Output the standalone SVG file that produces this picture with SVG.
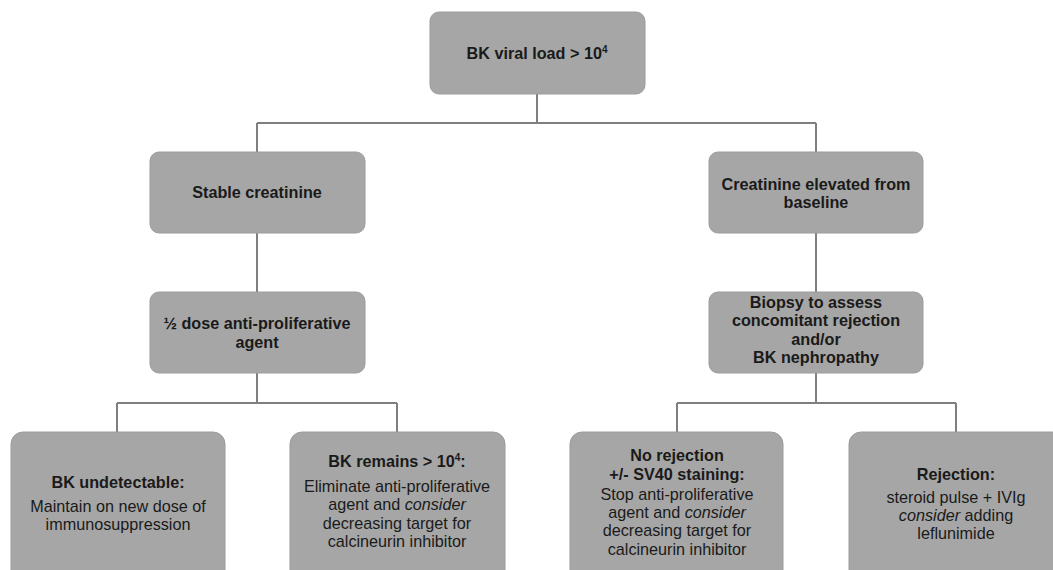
<svg xmlns="http://www.w3.org/2000/svg" width="1053" height="570" viewBox="0 0 1053 570">
<style>
.box{fill:#a6a6a6;stroke:#9c9c9c;stroke-width:1}
.t{font-family:"Liberation Sans",Arial,sans-serif;font-size:16.2px;fill:#1a1a1a;text-anchor:middle}
.b{font-weight:bold}
.sup{font-size:10px}
.c{fill:none;stroke:#7f7f7f;stroke-width:2}
</style>
<rect width="1053" height="570" fill="#ffffff"/>
<g id="connectors">
<path class="c" d="M537 94V123M257 123H816M257 123V152M816 123V152"/>
<path class="c" d="M257 233V292M816 233V292"/>
<path class="c" d="M257 373V403M117 403H397M117 403V432M397 403V432"/>
<path class="c" d="M816 373V403M677 403H956M677 403V432M956 403V432"/>
</g>
<g id="n-top">
<rect class="box" x="430" y="12" width="215" height="82" rx="9"/>
<text class="t b" x="537" y="59">BK viral load &gt; 10<tspan class="sup" dy="-6">4</tspan></text>
</g>
<g id="n-stable">
<rect class="box" x="150" y="152" width="215" height="81" rx="9"/>
<text class="t b" x="257" y="198">Stable creatinine</text>
</g>
<g id="n-elevated">
<rect class="box" x="709" y="152" width="214" height="81" rx="9"/>
<text class="t b" x="816" y="189.5">Creatinine elevated from</text>
<text class="t b" x="816" y="207.7">baseline</text>
</g>
<g id="n-halfdose">
<rect class="box" x="150" y="292" width="215" height="81" rx="9"/>
<text class="t b" x="257" y="329.4">½ dose anti-proliferative</text>
<text class="t b" x="257" y="347.6">agent</text>
</g>
<g id="n-biopsy">
<rect class="box" x="709" y="292" width="214" height="81" rx="9"/>
<text class="t b" x="816" y="308.2">Biopsy to assess</text>
<text class="t b" x="816" y="326.4">concomitant rejection</text>
<text class="t b" x="816" y="344.6">and/or</text>
<text class="t b" x="816" y="362.8">BK nephropathy</text>
</g>
<g id="n-undetectable">
<rect class="box" x="11" y="432" width="214" height="150" rx="12"/>
<text class="t b" x="118" y="488">BK undetectable:</text>
<text class="t" x="118" y="512">Maintain on new dose of</text>
<text class="t" x="118" y="530.2">immunosuppression</text>
</g>
<g id="n-remains">
<rect class="box" x="290" y="432" width="215" height="150" rx="12"/>
<text class="t b" x="397" y="467">BK remains &gt; 10<tspan class="sup" dy="-6">4</tspan><tspan dy="6">:</tspan></text>
<text class="t" x="397" y="492.2">Eliminate anti-proliferative</text>
<text class="t" x="397" y="510.4">agent and <tspan font-style="italic">consider</tspan></text>
<text class="t" x="397" y="528.6">decreasing target for</text>
<text class="t" x="397" y="546.8">calcineurin inhibitor</text>
</g>
<g id="n-norejection">
<rect class="box" x="570" y="432" width="213" height="150" rx="12"/>
<text class="t b" x="677" y="461.4">No rejection</text>
<text class="t b" x="677" y="479.6">+/- SV40 staining:</text>
<text class="t" x="677" y="499.9">Stop anti-proliferative</text>
<text class="t" x="677" y="518.1">agent and <tspan font-style="italic">consider</tspan></text>
<text class="t" x="677" y="536.3">decreasing target for</text>
<text class="t" x="677" y="554.5">calcineurin inhibitor</text>
</g>
<g id="n-rejection">
<rect class="box" x="849" y="432" width="215" height="150" rx="12"/>
<text class="t b" x="956" y="480">Rejection:</text>
<text class="t" x="956" y="502.5">steroid pulse + IVIg</text>
<text class="t" x="956" y="520.7"><tspan font-style="italic">consider</tspan> adding</text>
<text class="t" x="956" y="538.9">leflunimide</text>
</g>
</svg>
